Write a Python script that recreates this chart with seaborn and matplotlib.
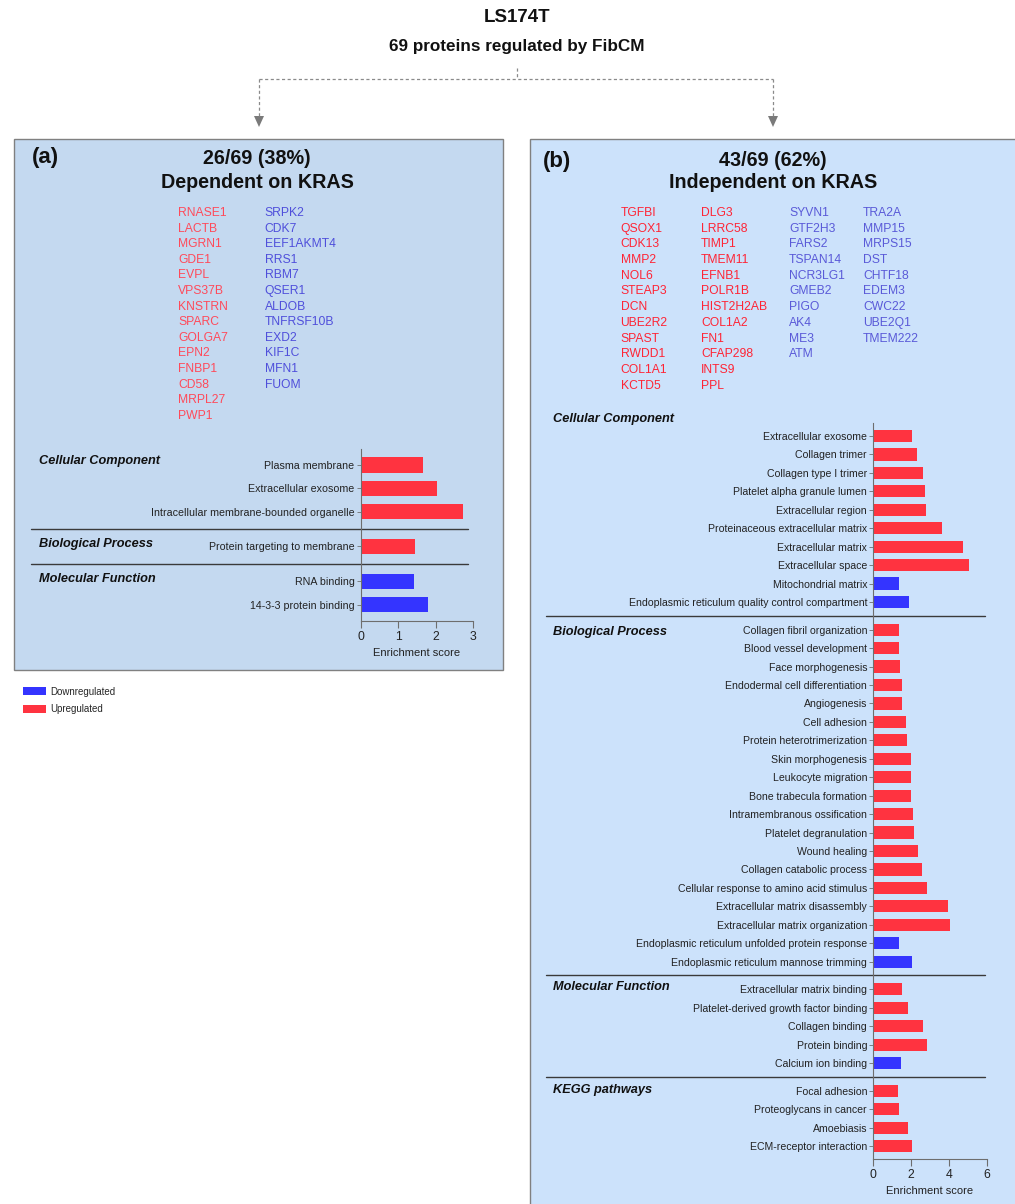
import numpy as np
import pandas as pd
import matplotlib
matplotlib.use("Agg")
import matplotlib.pyplot as plt
import seaborn as sns
from matplotlib.patches import Rectangle, Patch, Polygon
from matplotlib.lines import Line2D
from matplotlib import transforms

# ---------------- data ----------------
a_up_genes = ["RNASE1", "LACTB", "MGRN1", "GDE1", "EVPL", "VPS37B", "KNSTRN",
              "SPARC", "GOLGA7", "EPN2", "FNBP1", "CD58", "MRPL27", "PWP1"]
a_down_genes = ["SRPK2", "CDK7", "EEF1AKMT4", "RRS1", "RBM7", "QSER1", "ALDOB",
                "TNFRSF10B", "EXD2", "KIF1C", "MFN1", "FUOM"]

b_up_genes_1 = ["TGFBI", "QSOX1", "CDK13", "MMP2", "NOL6", "STEAP3", "DCN",
                "UBE2R2", "SPAST", "RWDD1", "COL1A1", "KCTD5"]
b_up_genes_2 = ["DLG3", "LRRC58", "TIMP1", "TMEM11", "EFNB1", "POLR1B", "HIST2H2AB",
                "COL1A2", "FN1", "CFAP298", "INTS9", "PPL"]
b_down_genes_1 = ["SYVN1", "GTF2H3", "FARS2", "TSPAN14", "NCR3LG1", "GMEB2", "PIGO",
                  "AK4", "ME3", "ATM"]
b_down_genes_2 = ["TRA2A", "MMP15", "MRPS15", "DST", "CHTF18", "EDEM3", "CWC22",
                  "UBE2Q1", "TMEM222"]

a_terms = ["Plasma membrane", "Extracellular exosome",
           "Intracellular membrane-bounded organelle",
           "Protein targeting to membrane",
           "RNA binding", "14-3-3 protein binding"]
a_scores = [1.67, 2.03, 2.72, 1.44, 1.43, 1.80]
a_dirs = ["Up", "Up", "Up", "Up", "Down", "Down"]
a_groups = ["Cellular Component"] * 3 + ["Biological Process"] + ["Molecular Function"] * 2

b_terms = ["Extracellular exosome", "Collagen trimer", "Collagen type I trimer",
           "Platelet alpha granule lumen", "Extracellular region",
           "Proteinaceous extracellular matrix", "Extracellular matrix",
           "Extracellular space", "Mitochondrial matrix",
           "Endoplasmic reticulum quality control compartment",
           "Collagen fibril organization", "Blood vessel development",
           "Face morphogenesis", "Endodermal cell differentiation", "Angiogenesis",
           "Cell adhesion", "Protein heterotrimerization", "Skin morphogenesis",
           "Leukocyte migration", "Bone trabecula formation",
           "Intramembranous ossification", "Platelet degranulation", "Wound healing",
           "Collagen catabolic process", "Cellular response to amino acid stimulus",
           "Extracellular matrix disassembly", "Extracellular matrix organization",
           "Endoplasmic reticulum unfolded protein response",
           "Endoplasmic reticulum mannose trimming",
           "Extracellular matrix binding", "Platelet-derived growth factor binding",
           "Collagen binding", "Protein binding", "Calcium ion binding",
           "Focal adhesion", "Proteoglycans in cancer", "Amoebiasis",
           "ECM-receptor interaction"]
b_scores = [2.03, 2.29, 2.65, 2.74, 2.80, 3.65, 4.73, 5.08, 1.38, 1.89,
            1.34, 1.36, 1.43, 1.50, 1.53, 1.75, 1.80, 1.98, 2.01, 2.01,
            2.12, 2.13, 2.38, 2.56, 2.82, 3.97, 4.04, 1.38, 2.03,
            1.50, 1.85, 2.61, 2.86, 1.48,
            1.32, 1.36, 1.85, 2.03]
b_dirs = ["Up"] * 8 + ["Down"] * 2 + ["Up"] * 17 + ["Down"] * 2 + ["Up"] * 4 + ["Down"] + ["Up"] * 4
b_groups = (["Cellular Component"] * 10 + ["Biological Process"] * 19 +
            ["Molecular Function"] * 5 + ["KEGG pathways"] * 4)

legend_labels = ["Downregulated", "Upregulated"]

# ---------------- style ----------------
W, H = 1015, 1204
RED = "#ff3340"
BLUE = "#3434ff"
sns.set_theme(style="white")
plt.rcParams["font.family"] = ["Liberation Sans", "DejaVu Sans"]

fig = plt.figure(figsize=(W / 100, H / 100), dpi=100)
fig.patch.set_facecolor("white")


def fx(x):
    return x / W


def fy(y):
    return 1 - y / H


# panel backgrounds
fig.add_artist(Rectangle((fx(14), fy(670)), (503 - 14) / W, (670 - 139) / H,
                         transform=fig.transFigure, facecolor="#c4d9f0",
                         edgecolor="#808080", lw=1.0, zorder=-5))
fig.add_artist(Rectangle((fx(530), fy(1215)), (1030 - 530) / W, (1215 - 139) / H,
                         transform=fig.transFigure, facecolor="#cce2fb",
                         edgecolor="#808080", lw=1.0, zorder=-5))

# top titles
fig.text(fx(517), fy(17), "LS174T", ha="center", va="center",
         fontsize=13.5, fontweight="bold", color="#111")
fig.text(fx(517), fy(47), "69 proteins regulated by FibCM", ha="center", va="center",
         fontsize=12.3, fontweight="bold", color="#111")

# dashed connectors with arrows
dash = dict(transform=fig.transFigure, color="#8a8a8a", lw=0.9, ls=(0, (2.5, 2)))
fig.add_artist(Line2D([fx(516.5), fx(516.5)], [fy(68), fy(79)], **dash))
fig.add_artist(Line2D([fx(259), fx(773)], [fy(79), fy(79)], **dash))
for xa in (259, 773):
    fig.add_artist(Line2D([fx(xa), fx(xa)], [fy(79), fy(117)], **dash))
    fig.add_artist(Polygon([(fx(xa - 5), fy(116)), (fx(xa + 5), fy(116)), (fx(xa), fy(127))],
                           closed=True, transform=fig.transFigure,
                           facecolor="#7a7a7a", edgecolor="none"))

# panel headers
HFS = 14.2
fig.text(fx(32), fy(158), "(a)", ha="left", va="center", fontsize=16, fontweight="bold", color="#111")
fig.text(fx(257), fy(158), "26/69 (38%)", ha="center", va="center", fontsize=HFS, fontweight="bold", color="#111")
fig.text(fx(257), fy(182), "Dependent on KRAS", ha="center", va="center", fontsize=HFS, fontweight="bold", color="#111")
fig.text(fx(543), fy(161), "(b)", ha="left", va="center", fontsize=16, fontweight="bold", color="#111")
fig.text(fx(773), fy(160), "43/69 (62%)", ha="center", va="center", fontsize=HFS, fontweight="bold", color="#111")
fig.text(fx(773), fy(183), "Independent on KRAS", ha="center", va="center", fontsize=HFS, fontweight="bold", color="#111")

# gene lists


def gene_column(genes, x, y0, dy, color):
    for i, g in enumerate(genes):
        fig.text(fx(x), fy(y0 + i * dy), g, ha="left", va="center",
                 fontsize=8.7, color=color)


gene_column(a_up_genes, 178, 213, 15.6, "#ff4a5a")
gene_column(a_down_genes, 264.5, 213, 15.6, "#4f4fdb")
gene_column(b_up_genes_1, 620.5, 213, 15.7, "#ff2435")
gene_column(b_up_genes_2, 701, 213, 15.7, "#ff2435")
gene_column(b_down_genes_1, 789, 213, 15.7, "#5a5ad8")
gene_column(b_down_genes_2, 863, 213, 15.7, "#5a5ad8")


# bar panels
def slot_positions(groups):
    pos, p, prev = [], 0.0, None
    for g in groups:
        if prev is not None:
            p += 1.0 if g == prev else 1.5
        pos.append(p)
        prev = g
    return pos


def draw_panel(ax, terms, scores, dirs, groups, xmax, xticks, sep_x, label_x,
               label_offsets, ytick_fs):
    df = pd.DataFrame({"term": terms, "score": scores, "dir": dirs, "group": groups})
    df["pos"] = slot_positions(groups)
    sns.barplot(data=df, x="score", y="pos", hue="dir", orient="h",
                palette={"Up": RED, "Down": BLUE}, native_scale=True, dodge=False,
                width=0.66, saturation=1, errorbar=None, legend=False, ax=ax,
                linewidth=0)
    ax.set_facecolor("none")
    ax.set_ylim(df["pos"].max() + 0.7, df["pos"].min() - 0.7)
    ax.set_xlim(0, xmax)
    ax.set_yticks(df["pos"])
    ax.set_yticklabels(df["term"], fontsize=ytick_fs, color="#222")
    ax.set_xticks(xticks)
    ax.set_xticklabels([str(t) for t in xticks], fontsize=8.8, color="#222")
    ax.set_xlabel("Enrichment score", fontsize=8, color="#222", labelpad=4)
    ax.set_ylabel("")
    for s in ("top", "right"):
        ax.spines[s].set_visible(False)
    for s in ("left", "bottom"):
        ax.spines[s].set_color("#6e6e6e")
        ax.spines[s].set_linewidth(0.8)
    ax.tick_params(axis="y", left=True, length=3, width=0.6, color="#6e6e6e", pad=1.5)
    ax.tick_params(axis="x", bottom=True, length=5, width=0.8, color="#6e6e6e", pad=2)
    ax.grid(False)
    blend = transforms.blended_transform_factory(fig.transFigure, ax.transData)
    names = list(dict.fromkeys(groups))
    for k, name in enumerate(names):
        sub = df[df["group"] == name]
        ax.text(fx(label_x), sub["pos"].min() + label_offsets[k], name, transform=blend,
                ha="left", va="center", fontsize=9.2, fontweight="bold",
                fontstyle="italic", color="#111", clip_on=False)
        if k > 0:
            prev = df[df["group"] == names[k - 1]]
            ysep = (prev["pos"].max() + sub["pos"].min()) / 2
            ax.plot([fx(sep_x[0]), fx(sep_x[1])], [ysep, ysep], transform=blend,
                    color="#3a3a3a", lw=1.0, clip_on=False)


ax_a = fig.add_axes([fx(360.7), fy(621), (473 - 360.7) / W, (621 - 448.7) / H])
draw_panel(ax_a, a_terms, a_scores, a_dirs, a_groups, 3, [0, 1, 2, 3],
           (30.7, 468), 39, [-0.17, -0.1, -0.1], 7.65)

ax_b = fig.add_axes([fx(873.3), fy(1159), (986.7 - 873.3) / W, (1159 - 423.1) / H])
draw_panel(ax_b, b_terms, b_scores, b_dirs, b_groups, 6, [0, 2, 4, 6],
           (546, 985), 553, [-0.9, 0.1, -0.1, -0.05], 7.6)

# legend
handles = [Patch(facecolor=BLUE, edgecolor="none"), Patch(facecolor=RED, edgecolor="none")]
fig.legend(handles, legend_labels, loc="upper left",
           bbox_to_anchor=(fx(16), fy(680)), frameon=False, fontsize=7,
           handlelength=2.4, handleheight=0.9, handletextpad=0.4, labelspacing=0.75,
           borderpad=0.2)

fig.savefig("out.png", dpi=100)
